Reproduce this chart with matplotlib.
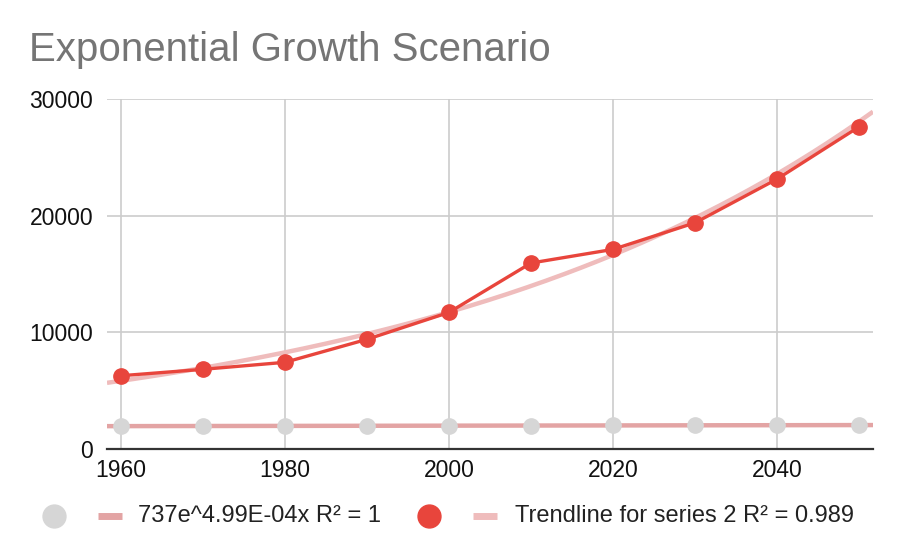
import numpy as np
import matplotlib
matplotlib.use("Agg")
import matplotlib.pyplot as plt
from matplotlib.lines import Line2D

# data
years = [1960, 1970, 1980, 1990, 2000, 2010, 2020, 2030, 2040, 2050]
series1 = [1960, 1970, 1980, 1990, 2000, 2010, 2020, 2030, 2040, 2050]
series2 = [6280, 6830, 7430, 9400, 11710, 15940, 17110, 19390, 23140, 27620]
x_ticks = [1960, 1980, 2000, 2020, 2040]
y_ticks = [0, 10000, 20000, 30000]
labels = ["737e^4.99E-04x R\u00b2 = 1", "Trendline for series 2 R\u00b2 = 0.989"]

RED = "#e8453c"
GRAY = "#d6d6d6"
TREND1 = "#e3a4a4"
TREND2 = "#efbcbc"

plt.rcParams["font.family"] = ["Liberation Sans", "DejaVu Sans"]

W, H = 900, 556
fig = plt.figure(figsize=(W / 100, H / 100), dpi=100)
ax = fig.add_axes([107 / W, 1 - 449 / H, (873 - 107) / W, (449 - 99) / H])

xlim = (1958.3, 2051.7)


def exp_fit(x, y):
    b, ln_a = np.polyfit(np.array(x, float), np.log(np.array(y, float)), 1)
    xs = np.linspace(xlim[0], xlim[1], 200)
    return xs, np.exp(ln_a) * np.exp(b * xs)


# trendlines
xs, ys = exp_fit(years, series1)
ax.plot(xs, ys, color=TREND1, lw=3.2, zorder=2, solid_capstyle="butt")
xs, ys = exp_fit(years, series2)
ax.plot(xs, ys, color=TREND2, lw=3.2, zorder=2, solid_capstyle="butt")

# series
ax.plot(years, series1, "o", color=GRAY, ms=11, zorder=3)
ax.plot(years, series2, "-o", color=RED, lw=2.4, ms=11, zorder=4)

ax.set_xlim(*xlim)
ax.set_ylim(0, 30000)
ax.set_xticks(x_ticks)
ax.set_yticks(y_ticks)
ax.grid(True, color="#cccccc", lw=1.2)
ax.set_axisbelow(True)
for side in ["top", "right", "left"]:
    ax.spines[side].set_visible(False)
ax.spines["bottom"].set_color("#333333")
ax.spines["bottom"].set_linewidth(1.6)
ax.spines["bottom"].set_zorder(5)
ax.tick_params(axis="both", length=0, labelsize=16.5, colors="#111111")
ax.tick_params(axis="y", pad=10)
ax.tick_params(axis="x", pad=7)

fig.text(29 / W, 1 - 61 / H, "Exponential Growth Scenario", fontsize=29,
         color="#757575", va="baseline", ha="left")

# legend drawn by hand along the bottom
ly = 1 - 516 / H
fig.add_artist(Line2D([54 / W], [ly], marker="o", ms=16.5, color=GRAY, lw=0))
fig.add_artist(Line2D([98 / W, 122 / W], [ly, ly], color=TREND1, lw=5,
                      solid_capstyle="butt"))
fig.text(138 / W, ly, labels[0], fontsize=17, color="#222222", va="center")
fig.add_artist(Line2D([429 / W], [ly], marker="o", ms=16.5, color=RED, lw=0))
fig.add_artist(Line2D([473 / W, 497 / W], [ly, ly], color=TREND2, lw=5,
                      solid_capstyle="butt"))
fig.text(515 / W, ly, labels[1], fontsize=17, color="#222222", va="center")

fig.savefig("out.png", dpi=100)
